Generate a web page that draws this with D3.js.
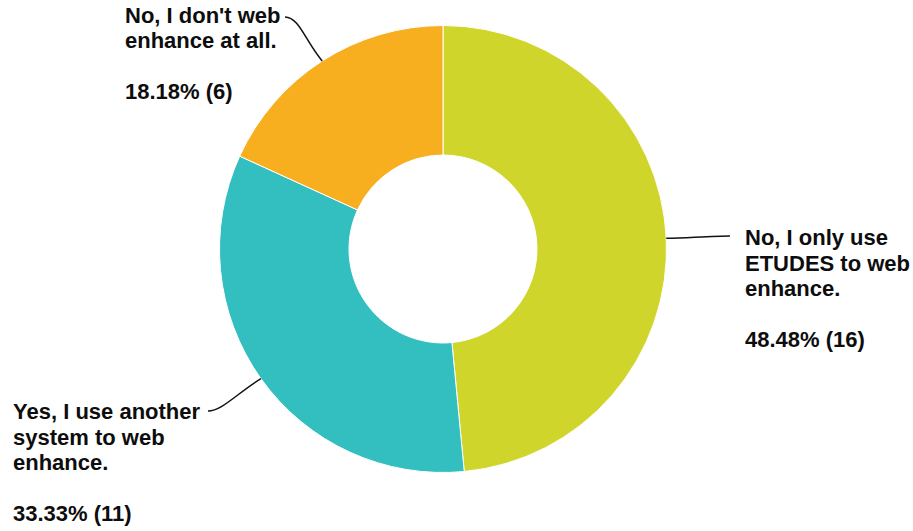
<!DOCTYPE html>
<html>
<head>
<meta charset="utf-8">
<script src="https://cdn.jsdelivr.net/npm/d3@7"></script>
<style>
  html, body { margin: 0; padding: 0; background: #fff; }
  svg { display: block; }
  text { font-family: "Liberation Sans", Arial, sans-serif; font-weight: bold; fill: #0d0d0d; }
</style>
</head>
<body>
<svg id="chart" width="913" height="531"></svg>
<script>
// ---- data ----
const categories = [
  "No, I only use ETUDES to web enhance.",
  "Yes, I use another system to web enhance.",
  "No, I don't web enhance at all."
];
const labelLines = [
  ["No, I only use", "ETUDES to web", "enhance."],
  ["Yes, I use another", "system to web", "enhance."],
  ["No, I don't web", "enhance at all."]
];
const counts = [16, 11, 6];
const percentLabels = ["48.48%", "33.33%", "18.18%"];
const colors = ["#CFD52A", "#33BEBF", "#F7AF1F"];

// ---- layout ----
const W = 913, H = 531;
const cx = 443, cy = 249, outerR = 223.5, innerR = 94;
const lineH = 25.5;
// label block: left x, first baseline, connector anchor point
const labelLayout = [
  { x: 745, y: 245, ax: 730, ay: 236 },
  { x: 13,  y: 419, ax: 208, ay: 411 },
  { x: 125, y: 22.7, ax: 285, ay: 17 }
];

const svg = d3.select("#chart");
const g = svg.append("g").attr("transform", `translate(${cx},${cy})`);

const pie = d3.pie().sort(null).value(d => d)(counts);
const arc = d3.arc().innerRadius(innerR).outerRadius(outerR);

g.selectAll("path.slice")
  .data(pie)
  .join("path")
  .attr("class", "slice")
  .attr("d", arc)
  .attr("fill", (d, i) => colors[i])
  .attr("stroke", "#fff")
  .attr("stroke-width", 1);

// connectors
pie.forEach((d, i) => {
  const mid = (d.startAngle + d.endAngle) / 2;
  const ex = cx + outerR * Math.sin(mid);
  const ey = cy - outerR * Math.cos(mid);
  const L = labelLayout[i];
  const dir = ex > L.ax ? 1 : -1;
  const c1x = L.ax + 14 * dir, c1y = L.ay;
  const c2x = ex - (ex - L.ax) * 0.45, c2y = ey - (ey - L.ay) * 0.45;
  svg.append("path")
    .attr("d", `M${L.ax},${L.ay} C${c1x},${c1y} ${c2x},${c2y} ${ex},${ey}`)
    .attr("fill", "none")
    .attr("stroke", "#111")
    .attr("stroke-width", 1.5);
});

// labels
pie.forEach((d, i) => {
  const L = labelLayout[i];
  const t = svg.append("text")
    .attr("x", L.x).attr("y", L.y)
    .style("font-size", "22px");
  const lines = labelLines[i].concat(["", `${percentLabels[i]} (${counts[i]})`]);
  lines.forEach((ln, j) => {
    t.append("tspan")
      .attr("x", L.x)
      .attr("y", L.y + j * lineH)
      .text(ln);
  });
});
</script>
</body>
</html>
